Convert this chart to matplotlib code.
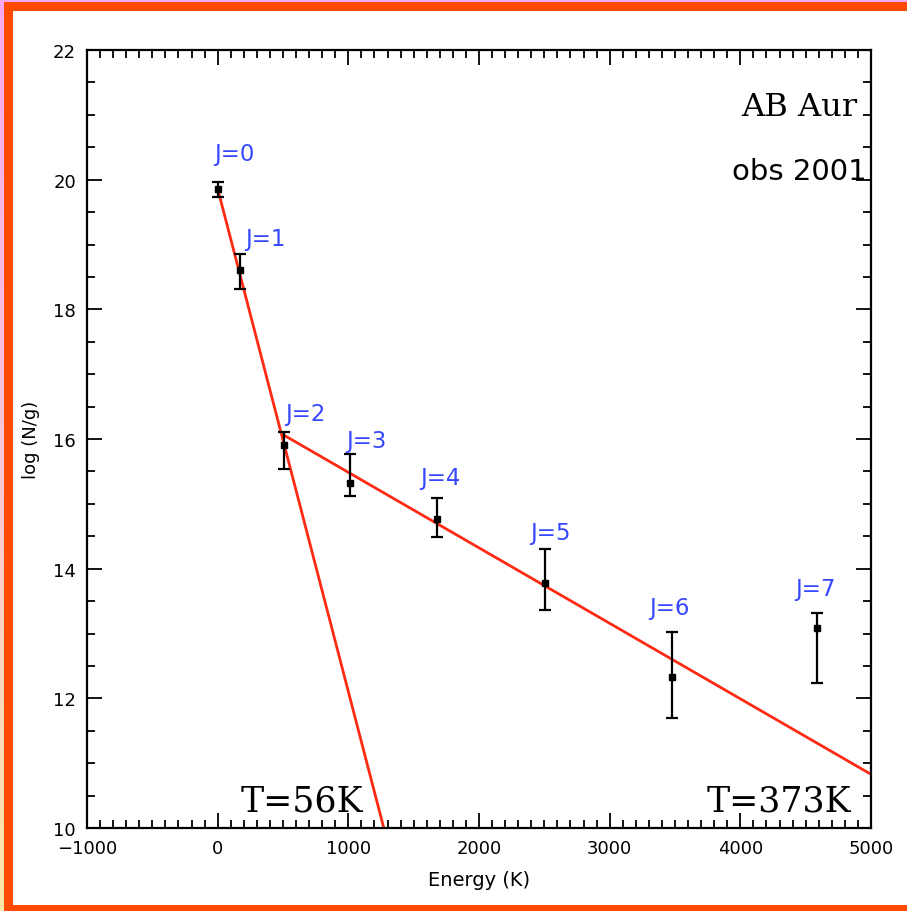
import matplotlib
matplotlib.use('Agg')
import matplotlib.pyplot as plt
from matplotlib.patches import Rectangle
from matplotlib.ticker import MultipleLocator
import numpy as np

# --- data ---
levels = ["J=0", "J=1", "J=2", "J=3", "J=4", "J=5", "J=6", "J=7"]
energy = [0, 170, 510, 1015, 1682, 2504, 3474, 4586]
log_ng = [19.86, 18.61, 15.91, 15.32, 14.77, 13.78, 12.33, 13.08]
err_up = [0.11, 0.24, 0.20, 0.45, 0.32, 0.52, 0.69, 0.24]
err_dn = [0.13, 0.30, 0.38, 0.20, 0.28, 0.42, 0.63, 0.84]

# label anchors (data coords)
label_x = [130, 367, 673, 1140, 1707, 2548, 3459, 4576]
label_y = [20.41, 19.10, 16.39, 15.98, 15.40, 14.56, 13.40, 13.70]

# two-temperature fits: log(N/g) = a - log10(e) * E / T
fit_T = [56, 373]
fit_a = [19.86, 16.65]
fit_E0 = [0, 510]
fit_E1 = [1300, 5000]

ORANGE = "#ff4a00"
PINK = "#f9aaf0"
RED = "#ff2a14"
BLUE = "#3548ff"

W, H = 907, 912
fig = plt.figure(figsize=(W / 100, H / 100), dpi=100)
fig.patch.set_facecolor("white")


def frame_rect(x, y, w, h, color, z=1):
    # pixel box -> figure fraction (y from the top)
    fig.add_artist(Rectangle((x / W, 1 - (y + h) / H), w / W, h / H,
                             transform=fig.transFigure, facecolor=color,
                             edgecolor="none", lw=0, zorder=z))


# --- frame around the slide ---
grad = fig.add_axes([0, 0, 4 / W, 1])
grad.imshow(np.linspace(0, 1, 256).reshape(-1, 1), aspect="auto",
            cmap=matplotlib.colors.LinearSegmentedColormap.from_list(
                "pk", [PINK, "#fbc6d8", "#ffe7a6"]),
            extent=[0, 1, 0, 1], origin="upper")
grad.axis("off")
frame_rect(0, 0, W, 3, PINK, 0)
frame_rect(4, 3, W, 9, ORANGE)
frame_rect(4, 3, 9, H, ORANGE)
frame_rect(4, H - 6, W, 6, ORANGE)

# --- main axes ---
ax = fig.add_axes([87 / W, (H - 829) / H, (871 - 87) / W, (829 - 51) / H])
ax.set_xlim(-1000, 5000)
ax.set_ylim(10, 22)

for T, a, e0, e1 in zip(fit_T, fit_a, fit_E0, fit_E1):
    e = np.array([e0, e1])
    ax.plot(e, a - np.log10(np.e) * e / T, color=RED, lw=2, zorder=2)

ax.errorbar(energy, log_ng, yerr=[err_dn, err_up], fmt="s", color="black",
            ms=4.5, elinewidth=1.6, capsize=4, capthick=1.6, zorder=3)

for lab, lx, ly in zip(levels, label_x, label_y):
    ax.text(lx, ly, lab, color=BLUE, fontsize=16.5, ha="center", va="center",
            family="DejaVu Sans")

ax.text(0.982, 0.928, "AB Aur", transform=ax.transAxes, ha="right", va="center",
        fontsize=23, family="DejaVu Serif")
ax.text(0.995, 0.845, "obs 2001", transform=ax.transAxes, ha="right", va="center",
        fontsize=21, family="DejaVu Sans")
ax.text(0.274, 0.022, "T=56K", transform=ax.transAxes, ha="center",
        va="baseline", fontsize=25, family="DejaVu Serif")
ax.text(0.975, 0.022, "T=373K", transform=ax.transAxes, ha="right",
        va="baseline", fontsize=25, family="DejaVu Serif")

ax.xaxis.set_major_locator(MultipleLocator(1000))
ax.xaxis.set_minor_locator(MultipleLocator(100))
ax.yaxis.set_major_locator(MultipleLocator(2))
ax.yaxis.set_minor_locator(MultipleLocator(0.5))
ax.tick_params(which="both", direction="in", top=True, right=True,
               width=1.3, colors="black", labelsize=13)
ax.tick_params(which="major", length=11, pad=8)
ax.tick_params(which="minor", length=5.5)
ax.set_xticklabels(["\u22121000" if t < 0 else f"{int(t)}" for t in ax.get_xticks()])
for sp in ax.spines.values():
    sp.set_linewidth(1.6)

ax.set_xlabel("Energy (K)", fontsize=14, labelpad=9)
ax.set_ylabel("log (N/g)", fontsize=13, labelpad=9)

fig.savefig("out.png", dpi=100)
